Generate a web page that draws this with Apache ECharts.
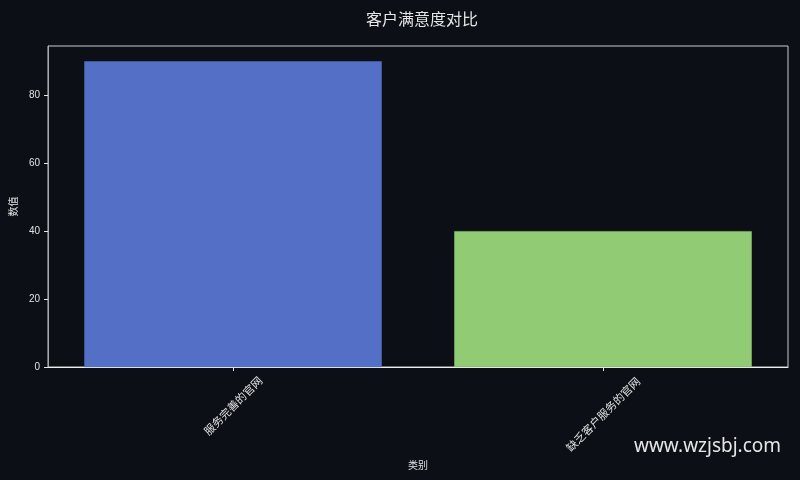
<!DOCTYPE html>
<html><head><meta charset="utf-8">
<script src="https://cdn.jsdelivr.net/npm/echarts@6/dist/echarts.min.js"></script>
<style>html,body{margin:0;padding:0;background:#0c0f16;}#c{width:800px;height:480px;}</style>
</head><body><div id="c"></div>
<script>
const categories = ['服务完善的官网', '缺乏客户服务的官网'];
const values = [90, 40];
const barColors = ['#5470c6', '#91cc75'];
const yTicks = [0, 20, 40, 60, 80];

const chart = echarts.init(document.getElementById('c'));
const cjk = '"Noto Sans CJK SC","DejaVu Sans",sans-serif';
const num = '"Liberation Sans","DejaVu Sans",sans-serif';
const lblBase = { color: '#e0e0e0', fontSize: 11, fontFamily: cjk };
chart.setOption({
  backgroundColor: '#0c0f16',
  animation: false,
  title: {
    text: '客户满意度对比', left: 361, top: 6,
    textStyle: { color: '#e6e6e6', fontSize: 16, fontWeight: 'normal', fontFamily: cjk }
  },
  grid: { left: 44, right: 12, top: 46, bottom: 113, show: true, borderColor: '#cccccc', borderWidth: 1, containLabel: false },
  xAxis: {
    type: 'category', data: categories,
    name: '类别', nameLocation: 'middle', nameGap: 90,
    nameTextStyle: { color: '#e0e0e0', fontSize: 10, fontFamily: cjk },
    axisLine: { show: true, lineStyle: { color: '#eeeeee', width: 1 } },
    axisTick: { show: true, alignWithLabel: true, length: 4, lineStyle: { color: '#e6e6e6' } },
    axisLabel: {
      rotate: 45, align: 'center', verticalAlign: 'middle', margin: 43, interval: 0,
      color: '#e0e0e0', fontSize: 11, fontFamily: cjk,
      formatter: (v, i) => '{l' + i + '|' + v + '}',
      rich: {
        l0: Object.assign({ padding: [0, 0, 6, 6] }, lblBase),
        l1: Object.assign({ padding: [6, 6, 0, 0] }, lblBase)
      }
    },
    splitLine: { show: false }
  },
  yAxis: {
    type: 'value', min: 0, max: 94.5, interval: 20,
    name: '数值', nameLocation: 'middle', nameGap: 29,
    nameTextStyle: { color: '#e0e0e0', fontSize: 10, fontFamily: cjk },
    axisLine: { show: true, lineStyle: { color: '#aaaaaa', width: 1 } },
    axisTick: { show: true, length: 4, lineStyle: { color: '#e6e6e6' } },
    axisLabel: { color: '#e0e0e0', fontSize: 10, margin: 8, showMaxLabel: false, fontFamily: num,
      formatter: v => yTicks.includes(v) ? String(v) : '' },
    splitLine: { show: false }
  },
  series: [{
    type: 'bar', barWidth: '80.4%',
    data: values.map((v, i) => ({ value: v, itemStyle: { color: barColors[i], borderColor: barColors[i], borderWidth: 0.5 } }))
  }],
  graphic: [{
    type: 'text', left: 634, top: 437,
    style: { text: 'www.wzjsbj.com', fill: '#e6e6e6', fontSize: 19, fontFamily: '"Noto Sans","Open Sans",sans-serif' }
  }]
});
</script></body></html>
